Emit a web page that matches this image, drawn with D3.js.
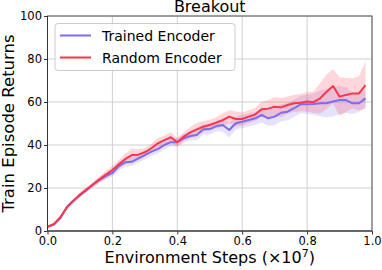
<!DOCTYPE html>
<html>
<head>
<meta charset="utf-8">
<script src="https://cdn.jsdelivr.net/npm/d3@7"></script>
<style>
  body { margin: 0; background: #fff; }
  text { font-family: "DejaVu Sans", sans-serif; fill: #000; }
</style>
</head>
<body>
<script>
// environment steps (x 1e7)
var steps = [0, 0.02, 0.04, 0.06, 0.08, 0.10, 0.12, 0.14, 0.16, 0.18,
             0.20, 0.22, 0.24, 0.26, 0.28, 0.30, 0.32, 0.34, 0.36, 0.38,
             0.40, 0.42, 0.44, 0.46, 0.48, 0.50, 0.52, 0.54, 0.56, 0.58,
             0.60, 0.62, 0.64, 0.66, 0.68, 0.70, 0.72, 0.74, 0.76, 0.78,
             0.80, 0.82, 0.84, 0.86, 0.88, 0.90, 0.92, 0.94, 0.96, 0.98];

var trainedMean = [1.9, 3.0, 6.0, 11.3, 14.2, 16.5, 19.0, 21.5, 23.7, 25.5,
                   27.0, 30.2, 32.0, 32.2, 33.8, 35.3, 36.9, 38.1, 40.0, 41.3,
                   41.3, 43.1, 44.2, 44.7, 47.3, 47.4, 48.8, 49.3, 47.0, 50.1,
                   50.8, 51.6, 52.4, 54.0, 52.4, 53.2, 55.0, 55.5, 57.1, 58.9,
                   58.9, 59.1, 59.4, 59.4, 60.2, 60.9, 60.9, 59.4, 59.4, 61.7];
var trainedSpread = [0.5, 0.5, 0.6, 0.8, 0.8, 0.8, 1.0, 1.0, 1.2, 1.5,
                     1.8, 2.0, 2.0, 2.0, 2.0, 2.0, 2.0, 2.0, 2.0, 2.0,
                     2.0, 2.0, 2.0, 2.5, 2.5, 2.5, 2.5, 3.0, 3.5, 3.0,
                     3.0, 3.0, 3.0, 3.5, 3.5, 4.0, 4.0, 4.0, 4.0, 4.0,
                     4.5, 5.0, 6.0, 6.5, 7.0, 6.5, 6.0, 5.0, 4.0, 4.0];

var randomMean = [1.9, 3.3, 6.5, 11.0, 14.0, 17.0, 19.3, 21.6, 24.0, 26.2,
                  28.4, 31.0, 33.5, 35.3, 35.5, 36.6, 38.5, 40.8, 42.3, 43.6,
                  41.3, 43.9, 45.9, 47.3, 48.5, 49.3, 50.4, 51.6, 53.2, 52.1,
                  52.1, 53.2, 54.2, 56.6, 56.9, 57.8, 57.5, 58.6, 59.4, 59.7,
                  60.2, 59.9, 61.7, 64.8, 67.4, 62.5, 63.3, 64.0, 64.0, 67.9];
var randomSpread = [0.5, 0.5, 0.6, 0.8, 0.8, 0.8, 1.0, 1.2, 1.5, 1.8,
                    2.0, 2.0, 2.5, 3.0, 2.5, 2.0, 2.0, 2.5, 2.0, 2.5,
                    2.0, 2.0, 2.5, 3.0, 2.5, 2.5, 2.5, 3.0, 3.0, 3.5,
                    3.0, 3.0, 3.0, 3.5, 4.0, 4.5, 4.5, 4.0, 4.0, 4.0,
                    4.5, 5.0, 7.0, 8.0, 8.0, 9.0, 8.0, 7.0, 8.0, 11.0];

var xTicks = [0, 0.2, 0.4, 0.6, 0.8, 1.0];
var yTicks = [0, 20, 40, 60, 80, 100];

var W = 382, H = 270;
var mLeft = 47.5, mRight = 372, mTop = 16, mBottom = 231;

var svg = d3.select("body").append("svg")
    .attr("width", W)
    .attr("height", H);

var x = d3.scaleLinear().domain([0, 1]).range([mLeft, mRight]);
var y = d3.scaleLinear().domain([0, 100]).range([mBottom, mTop]);

// grid
svg.append("g").selectAll("line")
    .data(xTicks)
    .enter().append("line")
    .attr("x1", function(d) { return x(d); })
    .attr("x2", function(d) { return x(d); })
    .attr("y1", mTop).attr("y2", mBottom)
    .attr("stroke", "#d0d0d0").attr("stroke-width", 1);
svg.append("g").selectAll("line")
    .data(yTicks)
    .enter().append("line")
    .attr("x1", mLeft).attr("x2", mRight)
    .attr("y1", function(d) { return y(d); })
    .attr("y2", function(d) { return y(d); })
    .attr("stroke", "#d0d0d0").attr("stroke-width", 1);

var series = [
  { name: "Trained Encoder", mean: trainedMean, spread: trainedSpread, color: "#7b6cf2" },
  { name: "Random Encoder", mean: randomMean, spread: randomSpread, color: "#ff3548" }
];

var area = d3.area()
    .x(function(d) { return x(d.s); })
    .y0(function(d) { return y(d.m - d.e); })
    .y1(function(d) { return y(d.m + d.e); });
var line = d3.line()
    .x(function(d) { return x(d.s); })
    .y(function(d) { return y(d.m); });

function pts(sr) {
  return steps.map(function(s, i) {
    return { s: s, m: sr.mean[i], e: sr.spread[i] };
  });
}

series.forEach(function(sr) {
  svg.append("path")
    .datum(pts(sr))
    .attr("d", area)
    .attr("fill", sr.color)
    .attr("fill-opacity", 0.2);
});
series.forEach(function(sr) {
  svg.append("path")
    .datum(pts(sr))
    .attr("d", line)
    .attr("fill", "none")
    .attr("stroke", sr.color)
    .attr("stroke-width", 2)
    .attr("stroke-linejoin", "round");
});

// axes
var xAxis = d3.axisBottom(x).tickValues(xTicks).tickSize(3.5).tickPadding(2)
    .tickFormat(d3.format(".1f"));
var yAxis = d3.axisLeft(y).tickValues(yTicks).tickSize(3.5).tickPadding(2);

var gx = svg.append("g").attr("transform", "translate(0," + mBottom + ")").call(xAxis);
var gy = svg.append("g").attr("transform", "translate(" + mLeft + ",0)").call(yAxis);
[gx, gy].forEach(function(g) {
  g.select(".domain").remove();
  g.selectAll("line").attr("stroke", "#333");
  g.selectAll("text").attr("font-size", "11.5px").attr("fill", "#000")
    .style("font-family", "DejaVu Sans");
});

// frame
svg.append("rect")
    .attr("x", mLeft).attr("y", mTop)
    .attr("width", mRight - mLeft).attr("height", mBottom - mTop)
    .attr("fill", "none").attr("stroke", "#555").attr("stroke-width", 1);
svg.append("path")
    .attr("d", "M" + mLeft + "," + mTop + "V" + mBottom + "H" + mRight)
    .attr("fill", "none").attr("stroke", "#333").attr("stroke-width", 1);

// title & labels
svg.append("text")
    .attr("x", (mLeft + mRight) / 2).attr("y", 12)
    .attr("text-anchor", "middle").attr("font-size", "16px")
    .text("Breakout");

var xl = svg.append("text")
    .attr("x", (mLeft + mRight) / 2).attr("y", 263)
    .attr("text-anchor", "middle").attr("font-size", "16px");
xl.append("tspan").text("Environment Steps (\u00d710");
xl.append("tspan").attr("dy", -6).attr("font-size", "11px").text("7");
xl.append("tspan").attr("dy", 6).text(")");

svg.append("text")
    .attr("transform", "translate(14," + ((mTop + mBottom) / 2) + ") rotate(-90)")
    .attr("text-anchor", "middle").attr("font-size", "16.5px")
    .text("Train Episode Returns");

// legend
var lg = svg.append("g");
lg.append("rect")
    .attr("x", 55).attr("y", 23.5).attr("width", 180).attr("height", 47)
    .attr("rx", 3)
    .attr("fill", "#fff").attr("fill-opacity", 0.8)
    .attr("stroke", "#ccc");
series.forEach(function(sr, i) {
  var ly = 35.5 + i * 22;
  lg.append("line")
    .attr("x1", 60).attr("x2", 91)
    .attr("y1", ly).attr("y2", ly)
    .attr("stroke", sr.color).attr("stroke-width", 2);
  lg.append("text")
    .attr("x", 102).attr("y", ly + 5)
    .attr("font-size", "14px")
    .text(sr.name);
});
</script>
</body>
</html>
